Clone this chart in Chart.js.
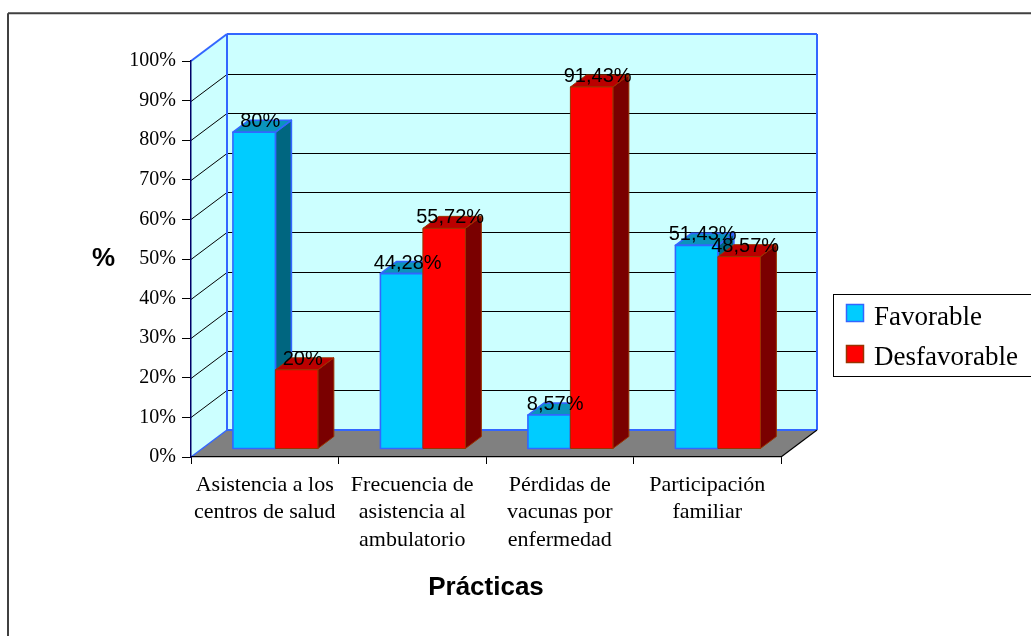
<!DOCTYPE html>
<html>
<head>
<meta charset="utf-8">
<script src="https://cdn.jsdelivr.net/npm/chart.js@4"></script>
<style>
  html, body { margin: 0; padding: 0; background: #fff; }
  #wrap { width: 1031px; height: 636px; }
</style>
</head>
<body>
<div id="wrap"><canvas id="chart" width="1031" height="636"></canvas></div>
<script>
const categories = [
  ['Asistencia a los', 'centros de salud'],
  ['Frecuencia de', 'asistencia al', 'ambulatorio'],
  ['Pérdidas de', 'vacunas por', 'enfermedad'],
  ['Participación', 'familiar']
];
const seriesNames = ['Favorable', 'Desfavorable'];
const favorable = [80, 44.28, 8.57, 51.43];
const desfavorable = [20, 55.72, 91.43, 48.57];
const yTickValues = [0, 10, 20, 30, 40, 50, 60, 70, 80, 90, 100];

// face colours for each series: front, top, side, outline
const faces = [
  { front: '#00CCFF', top: '#0A94BC', side: '#006680', line: '#3366FF', lw: 1.6 },
  { front: '#FF0000', top: '#BB0000', side: '#7A0000', line: '#993300', lw: 1 }
];

// depth of the floor and where the bars sit inside it
const DEPTH_X = 36, DEPTH_Y = -27;
const BAR_NEAR = 0.296, BAR_FAR = 0.74;

function fmt(v) {
  return String(v).replace('.', ',') + '%';
}

function poly(ctx, pts, fill, stroke, lw) {
  ctx.beginPath();
  ctx.moveTo(pts[0][0], pts[0][1]);
  for (let i = 1; i < pts.length; i++) ctx.lineTo(pts[i][0], pts[i][1]);
  ctx.closePath();
  if (fill) { ctx.fillStyle = fill; ctx.fill(); }
  if (stroke) { ctx.strokeStyle = stroke; ctx.lineWidth = lw || 1; ctx.stroke(); }
}

function line(ctx, x1, y1, x2, y2, color, lw) {
  ctx.beginPath();
  ctx.moveTo(x1, y1);
  ctx.lineTo(x2, y2);
  ctx.strokeStyle = color;
  ctx.lineWidth = lw || 1;
  ctx.stroke();
}

const threeD = {
  id: 'threeD',
  beforeDraw(chart) {
    const ctx = chart.ctx;
    const xs = chart.scales.x, ys = chart.scales.y;
    const L = xs.left, R = xs.right;
    const y0 = ys.getPixelForValue(0), yTop = ys.getPixelForValue(100);
    const dx = DEPTH_X, dy = DEPTH_Y;
    ctx.save();

    // chart frame (left and top edges only)
    line(ctx, 8, 13.3, 1031, 13.3, '#404040', 2);
    line(ctx, 8, 13.3, 8, 640, '#404040', 2);

    // walls
    poly(ctx, [[L + dx, yTop + dy], [R + dx, yTop + dy], [R + dx, y0 + dy], [L + dx, y0 + dy]], '#CCFFFF');
    poly(ctx, [[L, yTop], [L + dx, yTop + dy], [L + dx, y0 + dy], [L, y0]], '#CCFFFF');
    // floor
    poly(ctx, [[L, y0], [R, y0], [R + dx, y0 + dy], [L + dx, y0 + dy]], '#808080');

    // gridlines on back and side walls
    yTickValues.forEach(v => {
      if (v === 0 || v === 100) return;
      const y = Math.round(ys.getPixelForValue(v)) + 0.5;
      line(ctx, L + dx, y + dy, R + dx, y + dy, '#000', 1);
      line(ctx, L, y, L + dx, y + dy, '#000', 1);
    });

    // wall edges
    const blue = '#3366FF';
    line(ctx, L, yTop, L + dx, yTop + dy, blue, 2);
    line(ctx, L + dx, yTop + dy, R + dx, yTop + dy, blue, 2);
    line(ctx, R + dx, yTop + dy, R + dx, y0 + dy, blue, 2);
    line(ctx, L + dx, yTop + dy, L + dx, y0 + dy, blue, 2);
    line(ctx, L + dx, y0 + dy, R + dx, y0 + dy, blue, 2);
    line(ctx, L, y0, L + dx, y0 + dy, blue, 1.5);
    line(ctx, R, y0, R + dx, y0 + dy, '#000', 1.2);
    ctx.restore();
  },
  beforeDatasetsDraw(chart) {
    const ctx = chart.ctx;
    const fx = DEPTH_X * BAR_NEAR, fy = DEPTH_Y * BAR_NEAR;
    const bx = DEPTH_X * (BAR_FAR - BAR_NEAR), by = DEPTH_Y * (BAR_FAR - BAR_NEAR);
    const metas = chart.data.datasets.map((d, i) => chart.getDatasetMeta(i));
    ctx.save();
    ctx.lineJoin = 'round';
    for (let j = 0; j < chart.data.labels.length; j++) {
      metas.forEach((meta, i) => {
        const el = meta.data[j];
        const c = faces[i];
        const l = el.x - el.width / 2 + fx, r = el.x + el.width / 2 + fx;
        const t = el.y + fy, b = el.base + fy;
        poly(ctx, [[r, t], [r + bx, t + by], [r + bx, b + by], [r, b]], c.side, c.line, c.lw);
        poly(ctx, [[l, t], [r, t], [r + bx, t + by], [l + bx, t + by]], c.top, c.line, c.lw);
        poly(ctx, [[l, t], [r, t], [r, b], [l, b]], c.front, c.line, c.lw);
      });
    }
    ctx.restore();
    return false;
  },
  afterDraw(chart) {
    const ctx = chart.ctx;
    const fx = DEPTH_X * BAR_NEAR, fy = DEPTH_Y * BAR_NEAR;
    ctx.save();

    // value labels
    ctx.font = '20px "Liberation Sans", Arial, sans-serif';
    ctx.fillStyle = '#000';
    ctx.textAlign = 'center';
    ctx.textBaseline = 'alphabetic';
    chart.data.datasets.forEach((ds, i) => {
      chart.getDatasetMeta(i).data.forEach((el, j) => {
        ctx.fillText(fmt(ds.data[j]), el.x + fx + 6, el.y + fy - 5);
      });
    });

    // axis titles
    ctx.font = 'bold 26px "Liberation Sans", Arial, sans-serif';
    ctx.textBaseline = 'middle';
    ctx.fillText('%', 103.5, 259);
    ctx.fillText('Prácticas', (chart.scales.x.left + chart.scales.x.right) / 2, 588);

    // legend
    ctx.strokeStyle = '#000';
    ctx.lineWidth = 1;
    ctx.strokeRect(833.5, 294.5, 205, 82);
    ctx.font = '27px "Liberation Serif", "Times New Roman", serif';
    ctx.textAlign = 'left';
    ctx.textBaseline = 'alphabetic';
    seriesNames.forEach((name, i) => {
      const y = 304.5 + i * 41;
      ctx.fillStyle = faces[i].front;
      ctx.fillRect(846.5, y, 17, 17);
      ctx.strokeStyle = faces[i].line;
      ctx.lineWidth = 1.5;
      ctx.strokeRect(846.5, y, 17, 17);
      ctx.fillStyle = '#000';
      ctx.fillText(name, 874, 325 + i * 40);
    });
    ctx.restore();
  }
};

new Chart(document.getElementById('chart'), {
  type: 'bar',
  data: {
    labels: categories,
    datasets: [
      { label: seriesNames[0], data: favorable, backgroundColor: faces[0].front },
      { label: seriesNames[1], data: desfavorable, backgroundColor: faces[1].front }
    ]
  },
  options: {
    responsive: false,
    animation: false,
    layout: { padding: { left: 0, right: 250, top: 61, bottom: 79 } },
    datasets: { bar: { categoryPercentage: 0.576, barPercentage: 1 } },
    plugins: { legend: { display: false }, tooltip: { enabled: false } },
    scales: {
      x: {
        grid: { display: true, drawOnChartArea: false, tickLength: 7, color: '#000', offset: true },
        border: { color: '#000', width: 1.2 },
        ticks: {
          font: { family: '"Liberation Serif", "Times New Roman", serif', size: 22, lineHeight: 1.25 },
          color: '#000', padding: 7, maxRotation: 0, autoSkip: false
        },
        afterFit(s) { s.height = 100; }
      },
      y: {
        min: 0,
        max: 100,
        afterBuildTicks(s) { s.ticks = yTickValues.map(v => ({ value: v })); },
        ticks: {
          callback: v => v + '%',
          font: { family: '"Liberation Serif", "Times New Roman", serif', size: 20 },
          color: '#000', padding: 6
        },
        grid: { drawOnChartArea: false, tickLength: 9, color: '#000' },
        border: { color: '#000066', width: 1.5 },
        afterFit(s) { s.width = 191; }
      }
    }
  },
  plugins: [threeD]
});
</script>
</body>
</html>
